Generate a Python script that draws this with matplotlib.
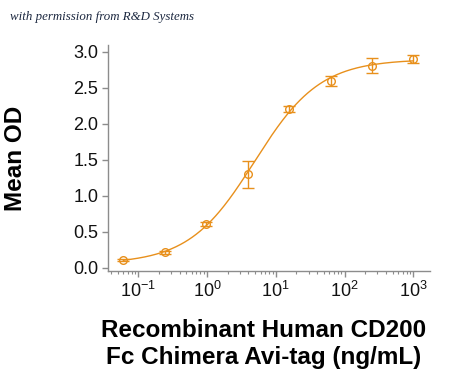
import numpy as np
import matplotlib
matplotlib.use('Agg')
from matplotlib import pyplot as plt
from matplotlib.ticker import LogLocator, NullFormatter

# data
conc = [0.061, 0.244, 0.977, 3.906, 15.625, 62.5, 250.0, 1000.0]   # ng/mL
mean_od = [0.11, 0.22, 0.61, 1.30, 2.21, 2.60, 2.81, 2.90]
sd = [0.01, 0.02, 0.03, 0.19, 0.04, 0.07, 0.11, 0.05]
yticks = [0.0, 0.5, 1.0, 1.5, 2.0, 2.5, 3.0]

orange = '#E8901C'
grey = '#8c8c8c'

# 4PL fit of the points (grid over EC50 / hill, linear solve for bottom/top)
lx = np.log10(conc)
yy = np.array(mean_od)
lc = np.linspace(0.3, 1.1, 161)[:, None, None]
hb = np.linspace(0.6, 1.6, 201)[None, :, None]
u = 1.0 / (1.0 + 10 ** ((lx - lc) * hb))
v = 1.0 - u
suu = (u * u).sum(-1); suv = (u * v).sum(-1); svv = (v * v).sum(-1)
suy = (u * yy).sum(-1); svy = (v * yy).sum(-1)
det = suu * svv - suv ** 2
bot = (suy * svv - suv * svy) / det
top = (suu * svy - suv * suy) / det
res = ((bot[..., None] * u + top[..., None] * v - yy) ** 2).sum(-1)
i, j = np.unravel_index(np.argmin(res), res.shape)
ec50, hill, a, d = 10 ** lc[i, 0, 0], hb[0, j, 0], bot[i, j], top[i, j]

xs = np.logspace(np.log10(conc[0]), np.log10(conc[-1]), 300)
ys = d + (a - d) / (1 + (xs / ec50) ** hill)

plt.rcParams['font.family'] = 'Liberation Sans'

fig = plt.figure(figsize=(4.5, 3.74), dpi=100)
ax = fig.add_axes([0.24, 0.2754, 0.7156, 0.6046])

ax.plot(xs, ys, color=orange, lw=1.0)
ax.errorbar(conc, mean_od, yerr=sd, fmt='o', mfc='none', mec=orange, ms=5.5,
            mew=1.0, ecolor=orange, elinewidth=1.0, capsize=4, capthick=1.0)

ax.set_xscale('log')
ax.set_xlim(10 ** -1.44, 10 ** 3.243)
ax.set_ylim(-0.042, 3.097)
ax.set_yticks(yticks)
ax.set_yticklabels(['%.1f' % t for t in yticks])
ax.xaxis.set_major_locator(LogLocator(base=10, numticks=10))
ax.xaxis.set_minor_locator(LogLocator(base=10, subs=np.arange(2, 10), numticks=10))
ax.xaxis.set_minor_formatter(NullFormatter())

for s in ['top', 'right']:
    ax.spines[s].set_visible(False)
for s in ['left', 'bottom']:
    ax.spines[s].set_color(grey)
    ax.spines[s].set_linewidth(1.0)
ax.tick_params(which='major', direction='out', length=4, width=1, color=grey,
               labelsize=13, labelcolor='#111111', pad=3)
ax.tick_params(which='minor', direction='out', length=2, width=0.8, color=grey)

ax.set_ylabel('Mean OD', fontsize=17.5, fontweight='bold')
ax.yaxis.set_label_coords(-0.25, 0.5)
ax.set_xlabel('Recombinant Human CD200\nFc Chimera Avi-tag (ng/mL)',
              fontsize=17.5, fontweight='bold', linespacing=1.22)
ax.xaxis.set_label_coords(0.483, -0.212)

fig.text(0.022, 0.955, 'with permission from R&D Systems', fontsize=9.3,
         family='Liberation Serif', style='italic', color='#1c2840', va='center')

fig.savefig('out.png', dpi=100)
